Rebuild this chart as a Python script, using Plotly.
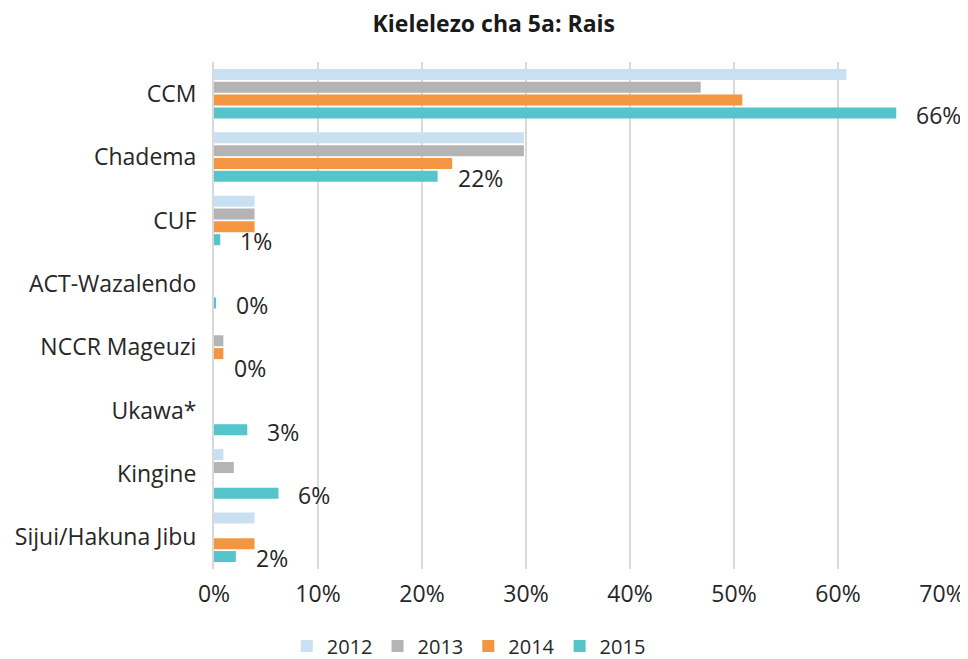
import plotly.graph_objects as go

categories = ["CCM", "Chadema", "CUF", "ACT-Wazalendo", "NCCR Mageuzi", "Ukawa*", "Kingine", "Sijui/Hakuna Jibu"]
years = ["2012", "2013", "2014", "2015"]
v2012 = [60.8, 29.8, 3.9, None, None, None, 0.9, 3.9]
v2013 = [46.8, 29.8, 3.9, None, 0.9, None, 1.9, None]
v2014 = [50.8, 22.9, 3.9, None, 0.9, None, None, 3.9]
v2015 = [65.6, 21.5, 0.6, 0.2, 0.0, 3.2, 6.2, 2.1]
colors = ["#c9dff2", "#b4b4b4", "#f39642", "#55c4cb"]
xticks = [0, 10, 20, 30, 40, 50, 60, 70]
xticktext = [f"{t}%" for t in xticks]

font = "'Open Sans', sans-serif"
W, H = 960, 651  # page body has an 8px margin
fig = go.Figure()
for name, vals, col in zip(years, [v2012, v2013, v2014, v2015], colors):
    fig.add_trace(go.Bar(y=categories, x=vals, name=name, orientation="h",
                         marker=dict(color=col, line=dict(width=0))))

for cat, v in zip(categories, v2015):
    fig.add_annotation(x=v, y=cat, text=f"{v:.0f}%", showarrow=False,
                       xanchor="left", yanchor="middle", xshift=18, yshift=-21,
                       font=dict(size=23, color="#262626", family=font))

fig.update_layout(
    width=W, height=H,
    margin=dict(l=206, r=26, t=54, b=90, autoexpand=False),
    paper_bgcolor="white", plot_bgcolor="white",
    barmode="group", bargap=0.19, bargroupgap=0.14,
    title=dict(text="<b>Kielelezo cha 5a: Rais</b>", x=0.506, xanchor="center",
               y=1 - 16 / H, yanchor="middle",
               font=dict(size=23, color="#1a1a1a", family=font)),
    font=dict(family=font, size=23, color="#262626"),
    xaxis=dict(range=[0, 70], tickvals=xticks, ticktext=xticktext, showgrid=True,
               gridcolor="#d9d9d9", gridwidth=2, zeroline=False, showline=False,
               tickfont=dict(size=23), ticks="outside", ticklen=4,
               tickcolor="rgba(0,0,0,0)", automargin=False),
    yaxis=dict(range=[len(categories) - 0.5, -0.5], showgrid=False, zeroline=False,
               showline=True, linecolor="#d9d9d9", linewidth=2,
               ticks="outside", ticklen=11, tickcolor="rgba(0,0,0,0)",
               tickfont=dict(size=23), automargin=False),
    legend=dict(orientation="h", x=0.35, xanchor="center", y=-0.152, yanchor="middle",
                font=dict(size=20), itemwidth=30, traceorder="normal"),
)

fig.write_html("out.html")
